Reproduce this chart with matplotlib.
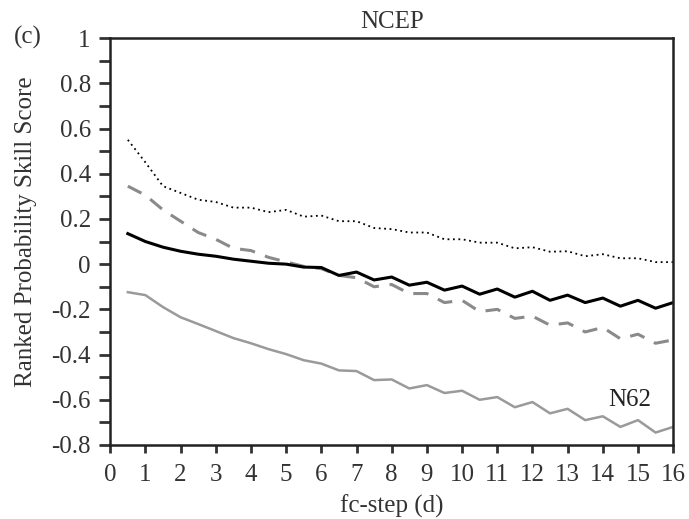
import numpy as np
import matplotlib
matplotlib.use("Agg")
import matplotlib.pyplot as plt
from matplotlib.ticker import MultipleLocator

plt.rcParams['font.family'] = ['Liberation Serif', 'DejaVu Serif']

# forecast step (days), half-day resolution
fc_step = np.arange(1, 33) * 0.5

# dotted black
rpss_dotted = [0.55, 0.45, 0.345, 0.315, 0.285, 0.275, 0.25, 0.25, 0.23, 0.24,
               0.21, 0.215, 0.19, 0.19, 0.16, 0.155, 0.14, 0.14, 0.11, 0.11,
               0.095, 0.095, 0.07, 0.075, 0.055, 0.057, 0.035, 0.044, 0.026, 0.026,
               0.009, 0.009]
# dashed grey
rpss_dashed = [0.345, 0.305, 0.24, 0.19, 0.14, 0.11, 0.07, 0.06, 0.03, 0.01,
               -0.01, -0.02, -0.05, -0.06, -0.10, -0.09, -0.13, -0.13, -0.17, -0.16,
               -0.21, -0.20, -0.24, -0.23, -0.27, -0.26, -0.30, -0.28, -0.33, -0.31,
               -0.35, -0.335]
# solid black
rpss_black = [0.135, 0.10, 0.075, 0.057, 0.044, 0.035, 0.022, 0.013, 0.004, 0.0,
              -0.013, -0.015, -0.05, -0.035, -0.07, -0.057, -0.093, -0.08, -0.115, -0.097,
              -0.133, -0.11, -0.146, -0.12, -0.16, -0.137, -0.17, -0.15, -0.186, -0.16,
              -0.195, -0.17]
# solid grey (N62)
rpss_n62 = [-0.124, -0.137, -0.19, -0.235, -0.265, -0.296, -0.327, -0.35, -0.376, -0.398,
            -0.425, -0.44, -0.47, -0.473, -0.513, -0.51, -0.55, -0.535, -0.57, -0.56,
            -0.60, -0.588, -0.633, -0.61, -0.66, -0.64, -0.69, -0.673, -0.72, -0.69,
            -0.745, -0.72]

fs = 18
fig = plt.figure(figsize=(6.89, 5.19), dpi=100)
ax = fig.add_axes([0.160, 0.1426, 0.817, 0.784])

ax.plot(fc_step, rpss_dotted, color='black', linestyle=(0, (1, 2)), linewidth=1.3)
ax.plot(fc_step, rpss_dashed, color='#8a8a8a', linestyle=(0, (5, 3.5)), linewidth=2.2)
ax.plot(fc_step, rpss_black, color='black', linewidth=2.2)
ax.plot(fc_step, rpss_n62, color='#9a9a9a', linewidth=1.8)

ax.text(14.77, -0.60, 'N62', fontsize=fs, ha='center', va='center', color='#222222')

ax.set_xlim(0, 16)
ax.set_ylim(-0.8, 1.0)
ax.xaxis.set_major_locator(MultipleLocator(1))
ax.yaxis.set_major_locator(MultipleLocator(0.2))
ax.yaxis.set_minor_locator(MultipleLocator(0.1))
ax.set_yticklabels([f'{v:g}' for v in ax.get_yticks()])

ax.tick_params(axis='both', direction='out', labelsize=fs, width=2, colors='#333333',
               labelcolor='#333333', top=False, right=False)
ax.tick_params(axis='y', which='major', length=8, pad=6)
ax.tick_params(axis='y', which='minor', length=8, width=2, color='#333333')
ax.tick_params(axis='x', which='major', length=6, pad=8)
for s in ax.spines.values():
    s.set_linewidth(1.8)
    s.set_color('#222222')

ax.set_xlabel('fc-step (d)', fontsize=fs, color='#333333', labelpad=6)
ax.set_ylabel('Ranked Probability Skill Score', fontsize=fs, color='#333333')
ax.yaxis.set_label_coords(-0.13, 0.523)
ax.set_title('NCEP', fontsize=fs, color='#333333', pad=7)
fig.text(0.02, 0.927, '(c)', fontsize=fs, color='#333333', va='center', ha='left')

fig.savefig('out.png', dpi=100)
